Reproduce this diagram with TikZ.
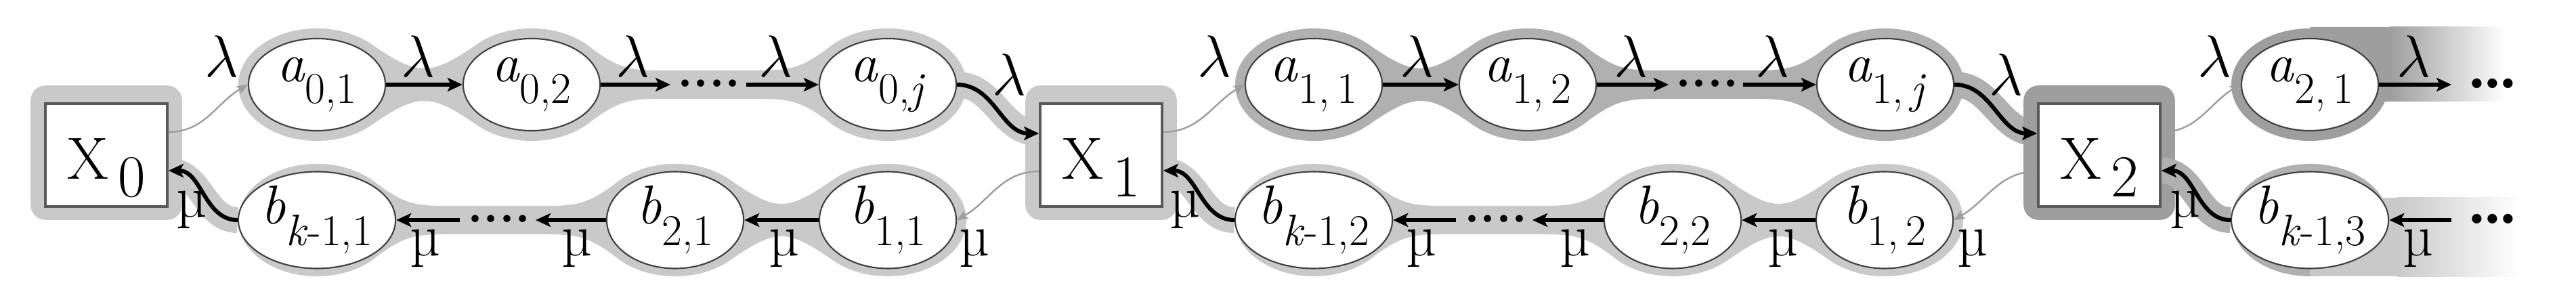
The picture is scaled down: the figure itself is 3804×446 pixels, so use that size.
\documentclass[tikz,border=0pt]{standalone}
\usetikzlibrary{arrows.meta,calc,shapes.geometric}
\pgfdeclarelayer{background}
\pgfsetlayers{background,main}
\definecolor{hl}{gray}{0.79}
\definecolor{hm}{gray}{0.69}
\definecolor{hd}{gray}{0.62}
\definecolor{edgegray}{gray}{0.62}
\newcommand\mysub[2]{\textit{#1}\raisebox{-0.4em}{\fontsize{18.5}{20}\selectfont #2}}
% short neck between two halos
\newcommand\neckS[3]{\fill[#3] ($(#1.center)+(80,-60)$) .. controls ($(#1.center)+(150,-12)$) and ($(#2.center)+(-150,-12)$) .. ($(#2.center)+(-80,-60)$) -- ($(#2.center)+(-80,60)$) .. controls ($(#2.center)+(-150,12)$) and ($(#1.center)+(150,12)$) .. ($(#1.center)+(80,60)$) -- cycle;}
% long neck between two halos
\newcommand\neckL[3]{\fill[#3] ($(#1.center)+(80,-60)$) .. controls ($(#1.center)+(125,-26)$) and ($(#1.center)+(140,-21)$) .. ($(#1.center)+(190,-21)$) -- ($(#2.center)+(-190,-21)$) .. controls ($(#2.center)+(-140,-21)$) and ($(#2.center)+(-125,-26)$) .. ($(#2.center)+(-80,-60)$) -- ($(#2.center)+(-80,60)$) .. controls ($(#2.center)+(-125,26)$) and ($(#2.center)+(-140,21)$) .. ($(#2.center)+(-190,21)$) -- ($(#1.center)+(190,21)$) .. controls ($(#1.center)+(140,21)$) and ($(#1.center)+(125,26)$) .. ($(#1.center)+(80,60)$) -- cycle;}
\begin{document}
\begin{tikzpicture}[x=0.01cm,y=-0.01cm,
  statenode/.style={ellipse,draw=black!75,line width=0.6pt,fill=white,minimum width=2.02cm,minimum height=1.36cm,inner sep=0pt,font=\fontsize{23}{27}\selectfont},
  boxnode/.style={rectangle,draw=black!65,line width=1pt,fill=white,minimum width=1.8cm,minimum height=1.52cm,inner sep=0pt,font=\fontsize{25}{30}\selectfont,text height=0.7cm,text depth=0cm},
  lab/.style={font=\fontsize{25}{30}\selectfont,inner sep=0pt},
  dotsnode/.style={font=\fontsize{21}{24}\selectfont\bfseries,inner sep=0pt,anchor=base},
  bigdots/.style={font=\fontsize{28}{30}\selectfont\bfseries,inner sep=0pt,anchor=base},
  arr/.style={line width=1.7pt,-{Stealth[length=0.22cm,width=0.2cm,inset=0.05cm]}},
  grarr/.style={draw=edgegray,line width=0.7pt,-{Stealth[length=0.16cm,width=0.13cm,inset=0.03cm]}},
  band/.style={line width=0.38cm},
  halo/.style={x radius=1.16cm, y radius=0.83cm},
]
\useasboundingbox (0,0) rectangle (3804,446);
% nodes
\node[statenode] (a01) at (468,125) {\mysub{a}{0,1}};
\node[statenode] (a02) at (785,125) {\mysub{a}{0,2}};
\node[statenode] (a0j) at (1311,125) {\mysub{a}{0,\textit{j}}};
\node[statenode] (a11) at (1940,125) {\mysub{a}{1,\,1}};
\node[statenode] (a12) at (2256,125) {\mysub{a}{1,\,2}};
\node[statenode] (a1j) at (2784,125) {\mysub{a}{1,\,\textit{j}}};
\node[statenode] (a21) at (3411,125) {\mysub{a}{2,\,1}};
\node[statenode] (b01) at (468,325) {\mysub{b}{\textit{k}-1,1}};
\node[statenode] (b21) at (997,325) {\mysub{b}{2,1}};
\node[statenode] (b11) at (1311,325) {\mysub{b}{1,1}};
\node[statenode] (b02) at (1940,325) {\mysub{b}{\textit{k}-1,2}};
\node[statenode] (b22) at (2470,325) {\mysub{b}{2,2}};
\node[statenode] (b12) at (2783,325) {\mysub{b}{1,\,2}};
\node[statenode] (b03) at (3411,325) {\mysub{b}{\textit{k}-1,3}};
\node[boxnode] (X0) at (157,229) {X\,\raisebox{-0.3em}{0}};
\node[boxnode] (X1) at (1626,229) {X\,\raisebox{-0.3em}{1}};
\node[boxnode] (X2) at (3100,229) {X\,\raisebox{-0.3em}{2}};
% free ends
\coordinate (t1a) at (990,125);
\coordinate (t1b) at (1102,125);
\coordinate (t2a) at (2464,125);
\coordinate (t2b) at (2574,125);
\coordinate (t3a) at (3620,125);
\coordinate (u1a) at (679,325);
\coordinate (u1b) at (791,325);
\coordinate (u2a) at (2150,325);
\coordinate (u2b) at (2263,325);
\coordinate (u3a) at (3620,325);
% halos
\begin{pgfonlayer}{background}
  % segment 1, light
  \fill[hl,rounded corners=0.22cm] ($(X0.north west)+(-20,-25)$) rectangle ($(X0.south east)+(20,18)$);
  \fill[hl,rounded corners=0.22cm] ($(X1.north west)+(-20,-25)$) rectangle ($(X1.south east)+(20,18)$);
  \foreach \n in {a01,a02,a0j,b01,b21,b11,b02,b22,b12}{
    \fill[hl] (\n.center) ellipse [halo];
  }
  \neckS{a01}{a02}{hl}
  \neckL{a02}{a0j}{hl}
  \neckL{b01}{b21}{hl}
  \neckS{b21}{b11}{hl}
  \neckL{b02}{b22}{hl}
  \neckS{b22}{b12}{hl}
  \draw[hl,band] (a0j.east) to[out=0,in=180] ($(X1.west)+(0,-32)$);
  \draw[hl,band] (b01.west) to[out=180,in=0] ($(X0.east)+(0,23)$);
  \draw[hl,band] (b02.west) to[out=180,in=0] ($(X1.east)+(0,23)$);
  % segment 2, medium
  \foreach \n in {a11,a12,a1j}{
    \fill[hm] (\n.center) ellipse [halo];
  }
  \neckS{a11}{a12}{hm}
  \neckL{a12}{a1j}{hm}
  \draw[hm,band] (a1j.east) to[out=0,in=180] ($(X2.west)+(0,-32)$);
  \fill[hd,rounded corners=0.22cm] ($(X2.north west)+(-20,-25)$) rectangle ($(X2.south east)+(20,18)$);
  % segment 3, fading
  \fill[hd] (a21.center) ellipse [halo];
  \fill[hd] (3411,40) rectangle (3530,150);
  \shade[left color=hd,right color=white] (3530,40) rectangle (3700,150);
  \fill[hm] (b03.center) ellipse [halo];
  \draw[hm,band] (b03.west) to[out=180,in=0] ($(X2.east)+(0,23)$);
  \fill[hl] (3411,292) rectangle (3540,408);
  \shade[left color=hl,right color=white] (3540,292) rectangle (3720,408);
\end{pgfonlayer}
% top connectors
\draw[grarr] ($(X0.east)+(0,-34)$) to[out=0,in=210] (a01.west);
\draw[arr] (a01) -- (a02);
\draw[arr] (a02) -- (t1a);
\node[dotsnode] (d1) at (1047,129) {....};
\draw[arr] (t1b) -- (a0j);
\draw[arr] (a0j.east) to[out=0,in=180] ($(X1.west)+(0,-32)$);
\draw[grarr] ($(X1.east)+(0,-34)$) to[out=0,in=210] (a11.west);
\draw[arr] (a11) -- (a12);
\draw[arr] (a12) -- (t2a);
\node[dotsnode] (d2) at (2521,129) {....};
\draw[arr] (t2b) -- (a1j);
\draw[arr] (a1j.east) to[out=0,in=180] ($(X2.west)+(0,-32)$);
\draw[grarr] ($(X2.east)+(0,-34)$) to[out=0,in=210] (a21.west);
\draw[arr] (a21) -- (t3a);
\node[bigdots] (d3) at (3681,131) {.\kern-0.08em.\kern-0.08em.};
% bottom connectors
\draw[arr] (b01.west) to[out=180,in=0] ($(X0.east)+(0,23)$);
\draw[arr] (u1a) -- (b01);
\node[dotsnode] (e1) at (737,329) {....};
\draw[arr] (b21) -- (u1b);
\draw[arr] (b11) -- (b21);
\draw[grarr] ($(X1.west)+(0,24)$) to[out=180,in=30] (b11.east);
\draw[arr] (b02.west) to[out=180,in=0] ($(X1.east)+(0,23)$);
\draw[arr] (u2a) -- (b02);
\node[dotsnode] (e2) at (2209,329) {....};
\draw[arr] (b22) -- (u2b);
\draw[arr] (b12) -- (b22);
\draw[grarr] ($(X2.west)+(0,24)$) to[out=180,in=30] (b12.east);
\draw[arr] (b03.west) to[out=180,in=0] ($(X2.east)+(0,23)$);
\draw[arr] (u3a) -- (b03);
\node[bigdots] (e3) at (3681,331) {.\kern-0.08em.\kern-0.08em.};
% lambda labels
\node[lab] (l1) at (327,83) {$\lambda$};
\node[lab] (l2) at (617,83) {$\lambda$};
\node[lab] (l3) at (934,83) {$\lambda$};
\node[lab] (l4) at (1145,83) {$\lambda$};
\node[lab] (l5) at (1490,110) {$\lambda$};
\node[lab] (l6) at (1793,83) {$\lambda$};
\node[lab] (l7) at (2092,83) {$\lambda$};
\node[lab] (l8) at (2408,83) {$\lambda$};
\node[lab] (l9) at (2617,83) {$\lambda$};
\node[lab] (l10) at (2962,110) {$\lambda$};
\node[lab] (l11) at (3270,83) {$\lambda$};
\node[lab] (l12) at (3564,83) {$\lambda$};
% mu labels
\node[lab] (m1) at (283,310) {µ};
\node[lab] (m2) at (628,367) {µ};
\node[lab] (m3) at (852,367) {µ};
\node[lab] (m4) at (1158,367) {µ};
\node[lab] (m5) at (1439,367) {µ};
\node[lab] (m6) at (1750,310) {µ};
\node[lab] (m7) at (2099,367) {µ};
\node[lab] (m8) at (2326,367) {µ};
\node[lab] (m9) at (2633,367) {µ};
\node[lab] (m10) at (2913,367) {µ};
\node[lab] (m11) at (3227,310) {µ};
\node[lab] (m12) at (3571,367) {µ};
\end{tikzpicture}
\end{document}
